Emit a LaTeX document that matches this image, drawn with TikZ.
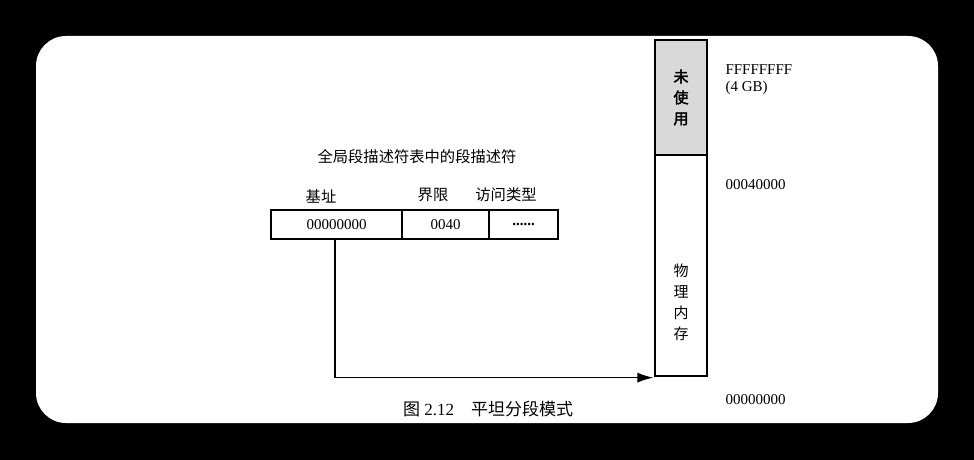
\documentclass[tikz,border=0pt]{standalone}
\usepackage{fontspec}
\setmainfont{Liberation Serif}
\newfontfamily\cjk{Noto Sans CJK SC}
\newfontfamily\cjkbold[FakeBold=2.5]{Noto Sans CJK SC}
\usetikzlibrary{positioning,arrows.meta,calc}

\begin{document}
\begin{tikzpicture}[x=1pt, y=-1pt,
  cell/.style={draw, line width=1.3pt, minimum height=29pt, inner sep=0pt, font=\fontsize{15}{17}\selectfont},
  memblock/.style={draw, line width=1.3pt, minimum width=52pt, inner sep=0pt},
  cjklabel/.style={font=\cjk\fontsize{15.3}{17}\selectfont},
  addr/.style={anchor=west, font=\fontsize{15}{17}\selectfont, align=left}]
% Frame
\useasboundingbox (0,0) rectangle (974,460);
\fill[black] (0,0) rectangle (974,460);
\fill[white, rounded corners=30pt] (36,36) rectangle (938,423);
% Descriptor in the GDT
\node[cjklabel] (title) at (417,157) {全局段描述符表中的段描述符};
\node[cell, minimum width=131pt] (base) at (336.5,224.5) {00000000};
\node[cell, minimum width=87pt] (limit) at (445.5,224.5) {0040};
\node[cell, minimum width=69pt] (access) at (523.5,224.5) {\textbf{......}};
\node[cjklabel] (baselbl) at (321,196) {基址};
\node[cjklabel] (limitlbl) at (433,195) {界限};
\node[cjklabel] (accesslbl) at (506,195) {访问类型};
% Memory column
\node[memblock, minimum height=115pt, fill=gray!30] (unused) at (681,97.5) {};
\node[memblock, minimum height=221pt] (phys) at (681,265.5) {};
\node[align=center, font=\cjkbold\fontsize{15}{21}\selectfont] (unusedtxt) at (unused) {未\\使\\用};
\node[align=center, font=\cjk\fontsize{15}{21}\selectfont] (phystxt) at (681,302) {物\\理\\内\\存};
% Addresses
\node[addr] (top) at (722,80) {FFFFFFFF\\(4 GB)};
\node[addr] (mid) at (722,185) {00040000};
\node[addr] (bottom) at (722,400) {00000000};
% Base address points to the bottom of memory
\coordinate (tip) at ($(phys.south west)+(-1,1)$);
\draw[line width=1.3pt, -{Latex[length=16pt,width=10pt]}] ([xshift=-1.5pt]base.south) |- (tip);
% Caption
\node[font=\fontsize{17}{19}\selectfont] (caption) at (488,409) {{\cjk 图} 2.12\quad{\cjk 平坦分段模式}};
\end{tikzpicture}
\end{document}
